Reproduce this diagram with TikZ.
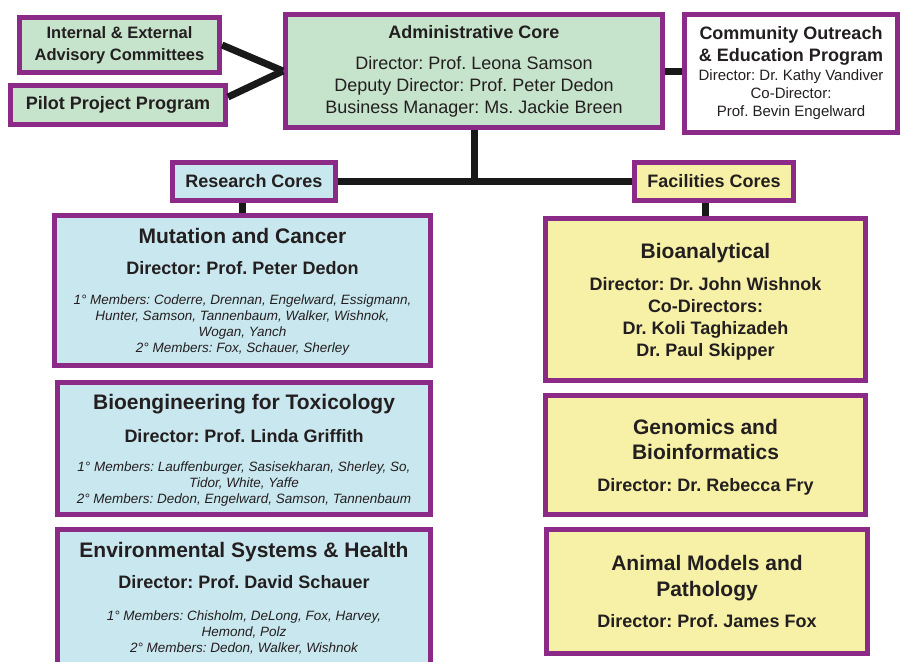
\documentclass[tikz,border=0pt]{standalone}
\usepackage{fontspec}
\setmainfont{Liberation Sans}
\usetikzlibrary{calc}
\definecolor{corepurple}{HTML}{8C2B87}
\definecolor{admingreen}{HTML}{C6E3CB}
\definecolor{researchblue}{HTML}{C9E7EE}
\definecolor{facilityyellow}{HTML}{F6F1A6}
\definecolor{inkgrey}{HTML}{231F20}
\newcommand{\fsz}[2]{\fontsize{#1}{#2}\selectfont}
% line fonts inside the boxes (every line of a node is its own group)
\newcommand{\coretitle}{\fsz{21}{25}\bfseries\upshape}
\newcommand{\corehead}{\fsz{18}{22}\bfseries\upshape}
\newcommand{\coremembers}{\fsz{13.5}{16}\itshape}
\begin{document}
\frenchspacing
\begin{tikzpicture}[x=1pt, y=-1pt,
  box/.style={draw=corepurple, line width=5pt, align=center, text=inkgrey, inner sep=0pt},
  link/.style={line width=7pt, draw=black!90}]
\useasboundingbox (0,0) rectangle (901,661);
\fill[white] (0,0) rectangle (901,661);

\node[box, fill=admingreen, minimum width=200pt, minimum height=55pt, font=\fsz{16.5}{22}\bfseries] (advisory) at (119.5,45) {Internal \& External\\Advisory Committees};
\node[box, fill=admingreen, minimum width=215pt, minimum height=39pt, font=\fsz{18}{22}\bfseries] (pilot) at (118,105) {Pilot Project Program};
\node[box, fill=admingreen, minimum width=377pt, minimum height=113pt, font=\fsz{18}{22}] (admin) at (474,71)
  {\corehead Administrative Core\\[9pt]Director: Prof. Leona Samson\\Deputy Director: Prof. Peter Dedon\\Business Manager: Ms. Jackie Breen};
\node[box, fill=white, minimum width=213pt, minimum height=118pt, font=\fsz{15}{18}] (outreach) at (791,73.5)
  {\corehead Community Outreach\\[4pt]\corehead\& Education Program\\[1pt]Director: Dr. Kathy Vandiver\\Co-Director:\\Prof. Bevin Engelward};

\node[box, fill=researchblue, minimum width=163pt, minimum height=38pt, font=\fsz{18}{22}\bfseries] (research) at (254,181.5) {Research Cores};
\node[box, fill=facilityyellow, minimum width=159pt, minimum height=38pt, font=\fsz{18}{22}\bfseries] (facilities) at (714,181.5) {Facilities Cores};

\node[box, fill=researchblue, minimum width=376pt, minimum height=150pt, font=\coremembers, text depth=-6.2pt] (mutation) at (242.5,290.5)
  {\coretitle Mutation and Cancer\\[15.5pt]\corehead Director: Prof. Peter Dedon\\[14pt]1° Members: Coderre, Drennan, Engelward, Essigmann,\\Hunter, Samson, Tannenbaum, Walker, Wishnok,\\Wogan, Yanch\\2° Members: Fox, Schauer, Sherley};
\node[box, fill=researchblue, minimum width=373pt, minimum height=132pt, font=\coremembers, text depth=-5.2pt] (bioeng) at (244,448.5)
  {\coretitle Bioengineering for Toxicology\\[15pt]\corehead Director: Prof. Linda Griffith\\[12.5pt]1° Members: Lauffenburger, Sasisekharan, Sherley, So,\\Tidor, White, Yaffe\\2° Members: Dedon, Engelward, Samson, Tannenbaum};
\node[box, fill=researchblue, minimum width=373pt, minimum height=136pt, font=\coremembers, text depth=-8pt] (envsys) at (244,597.5)
  {\coretitle Environmental Systems \& Health\\[12.5pt]\corehead Director: Prof. David Schauer\\[16pt]1° Members: Chisholm, DeLong, Fox, Harvey,\\Hemond, Polz\\2° Members: Dedon, Walker, Wishnok};

\node[box, fill=facilityyellow, minimum width=320pt, minimum height=162pt, font=\corehead, text depth=-4.2pt] (bioanalytical) at (705.5,299.5)
  {\coretitle Bioanalytical\\[10pt]Director: Dr. John Wishnok\\Co-Directors:\\Dr. Koli Taghizadeh\\Dr. Paul Skipper};
\node[box, fill=facilityyellow, minimum width=320pt, minimum height=119pt, font=\coretitle, text depth=-7.2pt] (genomics) at (705.5,455)
  {Genomics and\\Bioinformatics\\[7pt]\corehead Director: Dr. Rebecca Fry};
\node[box, fill=facilityyellow, minimum width=321pt, minimum height=124pt, font=\coretitle] (animal) at (707,591.5)
  {Animal Models and\\[0.5pt]Pathology\\[6.5pt]\corehead Director: Prof. James Fox};

\draw[link] (advisory.east) -- (admin.west);
\draw[link] ($(pilot.east)+(0,-8)$) -- (admin.west);
\draw[link] (admin.east) -- (admin.east -| outreach.west);
\draw[link] (admin.south) -- (admin.south |- research.east);
\draw[link] (research.east) -- (facilities.west);
\draw[link] (research.south -| mutation.north) -- (mutation.north);
\draw[link] (facilities.south -| bioanalytical.north) -- (bioanalytical.north);
\end{tikzpicture}
\end{document}
